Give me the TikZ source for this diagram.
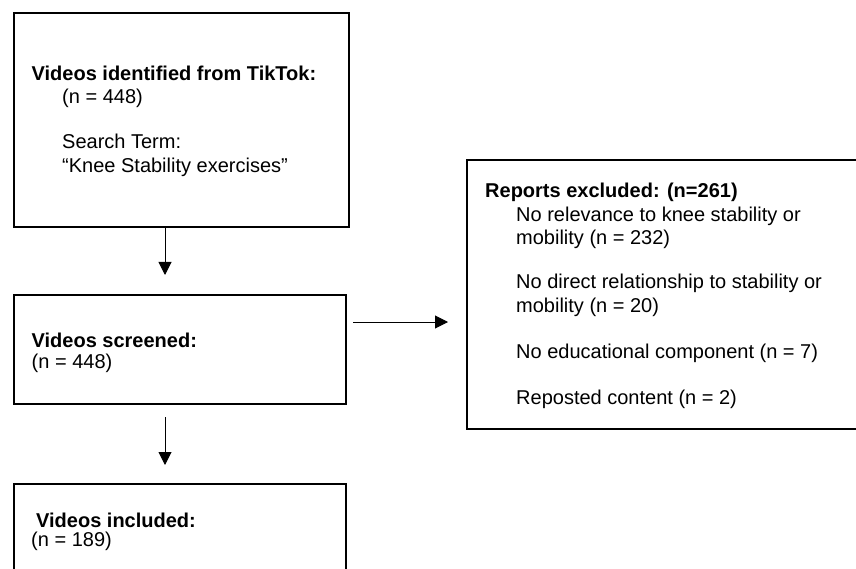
\documentclass[tikz,border=0pt]{standalone}
\usepackage{fontspec}
\setmainfont{Liberation Sans}
\usetikzlibrary{arrows.meta}
\begin{document}
\begin{tikzpicture}[x=1pt,y=-1pt,
  box/.style={draw=black,line width=2pt,inner sep=0pt,anchor=north west},
  txt/.style={inner sep=0pt,anchor=base west,font=\fontsize{20}{24}\selectfont},
  bold/.style={txt,font=\fontsize{20}{24}\selectfont\bfseries},
  arr/.style={draw=black,line width=1pt,-{Triangle[width=13pt,length=13pt]}}]
\useasboundingbox (0,0) rectangle (856,569);
\clip (0,0) rectangle (856,569);
% boxes
\node[box,minimum width=335pt,minimum height=214pt] (b1) at (13,12.5) {};
\node[box,minimum width=332pt,minimum height=108.5pt] (b2) at (13,294) {};
\node[box,minimum width=332pt,minimum height=130pt] (b3) at (13,483) {};
\node[box,minimum width=420pt,minimum height=269pt] (b4) at (466,159) {};
% texts box 1
\node[bold] (t11) at (31.5,81) {Videos identified from TikTok:};
\node[txt] (t12) at (62,104) {(n = 448)};
\node[txt] (t13) at (62,149) {Search Term:};
\node[txt] (t14) at (62,173) {“Knee Stability exercises”};
% box 2
\node[bold] (t21) at (31.5,347) {Videos screened:};
\node[txt] (t22) at (31.5,368) {(n = 448)};
% box 3
\node[bold] (t31) at (36,527) {Videos included:};
\node[txt] (t32) at (31,546) {(n = 189)};
% box 4
\node[bold] (t41) at (485,198) {Reports excluded: (n=261)};
\node[txt] (t42) at (516,222) {No relevance to knee stability or};
\node[txt] (t43) at (516,245) {mobility (n = 232)};
\node[txt] (t44) at (516,288) {No direct relationship to stability or};
\node[txt] (t45) at (516,312) {mobility (n = 20)};
\node[txt] (t46) at (516,358) {No educational component (n = 7)};
\node[txt] (t47) at (516,404) {Reposted content (n = 2)};
% connectors
\coordinate (v1) at ([xshift=152pt]b1.south west);
\draw[arr,shorten >=19pt] (v1) -- (v1 |- b2.north);
\coordinate (v2) at ([shift={(152,12.5)}]b2.south west);
\draw[arr,shorten >=18pt] (v2) -- (v2 |- b3.north);
\coordinate (hs) at ([shift={(6,28)}]b2.north east);
\draw[arr,shorten >=18pt] (hs) -- (hs -| b4.west);
\end{tikzpicture}
\end{document}
